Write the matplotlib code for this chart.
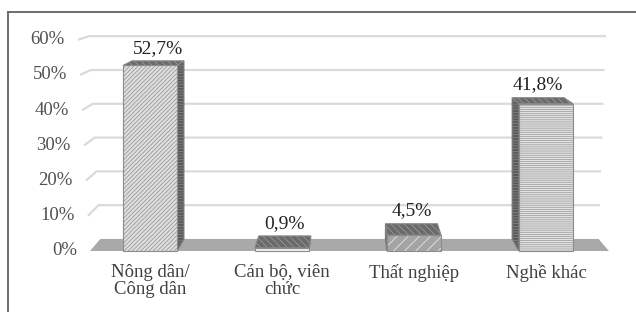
import matplotlib
matplotlib.use("Agg")
import matplotlib.pyplot as plt
from matplotlib.patches import Polygon
from matplotlib.lines import Line2D

# data
categories = ["Nông dân/\nCông dân", "Cán bộ, viên\nchức", "Thất nghiệp", "Nghề khác"]
values = [52.7, 0.9, 4.5, 41.8]
value_labels = ["52,7%", "0,9%", "4,5%", "41,8%"]
yticks = [0, 10, 20, 30, 40, 50, 60]
ytick_labels = ["0%", "10%", "20%", "30%", "40%", "50%", "60%"]

# styles per bar: front face, hatch, hatch colour
front_styles = [
    ("#dedede", "////////", "#8e8e8e"),
    ("#f0f0f0", "-----", "#808080"),
    ("#a4a4a4", "///", "#f2f2f2"),
    ("#e2e2e2", "--------", "#989898"),
]

plt.rcParams["hatch.linewidth"] = 0.5
plt.rcParams["font.family"] = ["Liberation Serif", "DejaVu Serif"]

# perspective (vanishing point in data units, back plane scale)
VX, VY, SHRINK = 1.515, 85.5, 0.04


def proj(x, v, d):
    s = 1 - SHRINK * d
    return (VX + (x - VX) * s, VY + (v - VY) * s)


fig = plt.figure(figsize=(6.36, 3.12), dpi=100)
ax = fig.add_axes([0, 0, 1, 1])
ax.set_xlim(-1.136, 3.682)
ax.set_ylim(-17.33, 71.3)
ax.axis("off")

# outer frame
fig.add_artist(Line2D([8 / 636, 1.01], [1 - 12 / 312] * 2, color="#6b6b6b", lw=1.4))
fig.add_artist(Line2D([8 / 636] * 2, [-0.01, 1 - 12 / 312], color="#6b6b6b", lw=1.4))

# gridlines on the left wall + back wall, and tick labels
for t, lab in zip(yticks, ytick_labels):
    xl = -0.4545 - 0.0015 * t
    xr = 3.477 + 0.00097 * t
    bl = proj(xl, t, 1)
    br = proj(xr, t, 1)
    if t > 0:
        ax.plot([xl, bl[0], br[0]], [t, bl[1], br[1]], color="#dadada", lw=1.6,
                zorder=1, solid_capstyle="butt")
    ax.text(xl - 0.1, t, lab, ha="right", va="center", fontsize=13.5,
            color="#505050")

# floor
fl = [(-0.4545, 0, 0), (3.477, 0, 0), (3.477, 0, 1), (-0.4545, 0, 1)]
ax.add_patch(Polygon([proj(*p) for p in fl], closed=True, facecolor="#a9a9a9",
                     edgecolor="none", zorder=2))

# bars
w = 0.205
for i, (v, lab) in enumerate(zip(values, value_labels)):
    x0, x1 = i - w, i + w
    fc, hatch, hc = front_styles[i]

    # side face toward the vanishing point
    if abs(i - VX) > 0.3:
        xs = x1 if i < VX else x0
        side = [(xs, 0), (xs, v), proj(xs, v, 1), proj(xs, 0, 1)]
        ax.add_patch(Polygon(side, closed=True, facecolor="#5a5a5a",
                             edgecolor="#8a8a8a", hatch="------", lw=0, zorder=3))
        ax.add_patch(Polygon(side, closed=True, fill=False, edgecolor="#7a7a7a",
                             lw=0.8, zorder=3.1))

    # top face
    top = [(x0, v), (x1, v), proj(x1, v, 1), proj(x0, v, 1)]
    ax.add_patch(Polygon(top, closed=True, facecolor="#6a6a6a",
                         edgecolor="#a0a0a0", hatch="\\\\\\\\\\", lw=0, zorder=4))
    ax.add_patch(Polygon(top, closed=True, fill=False, edgecolor="#888888",
                         lw=0.8, zorder=4.1))

    # front face
    front = [(x0, 0), (x1, 0), (x1, v), (x0, v)]
    ax.add_patch(Polygon(front, closed=True, facecolor=fc, edgecolor=hc,
                         hatch=hatch, lw=0, zorder=5))
    ax.add_patch(Polygon(front, closed=True, fill=False, edgecolor="#8c8c8c",
                         lw=0.8, zorder=5.1))

    # value label
    bx, by = proj(i, v, 1)
    ax.annotate(lab, (bx, by), xytext=(0, 3), textcoords="offset points",
                ha="center", va="bottom", fontsize=14, color="#222222", zorder=6)

    # category label
    ax.text(i, -3.6, categories[i], ha="center", va="top", fontsize=13.5,
            color="#404040", linespacing=1.0)

fig.savefig("out.png", dpi=100, facecolor="white")
